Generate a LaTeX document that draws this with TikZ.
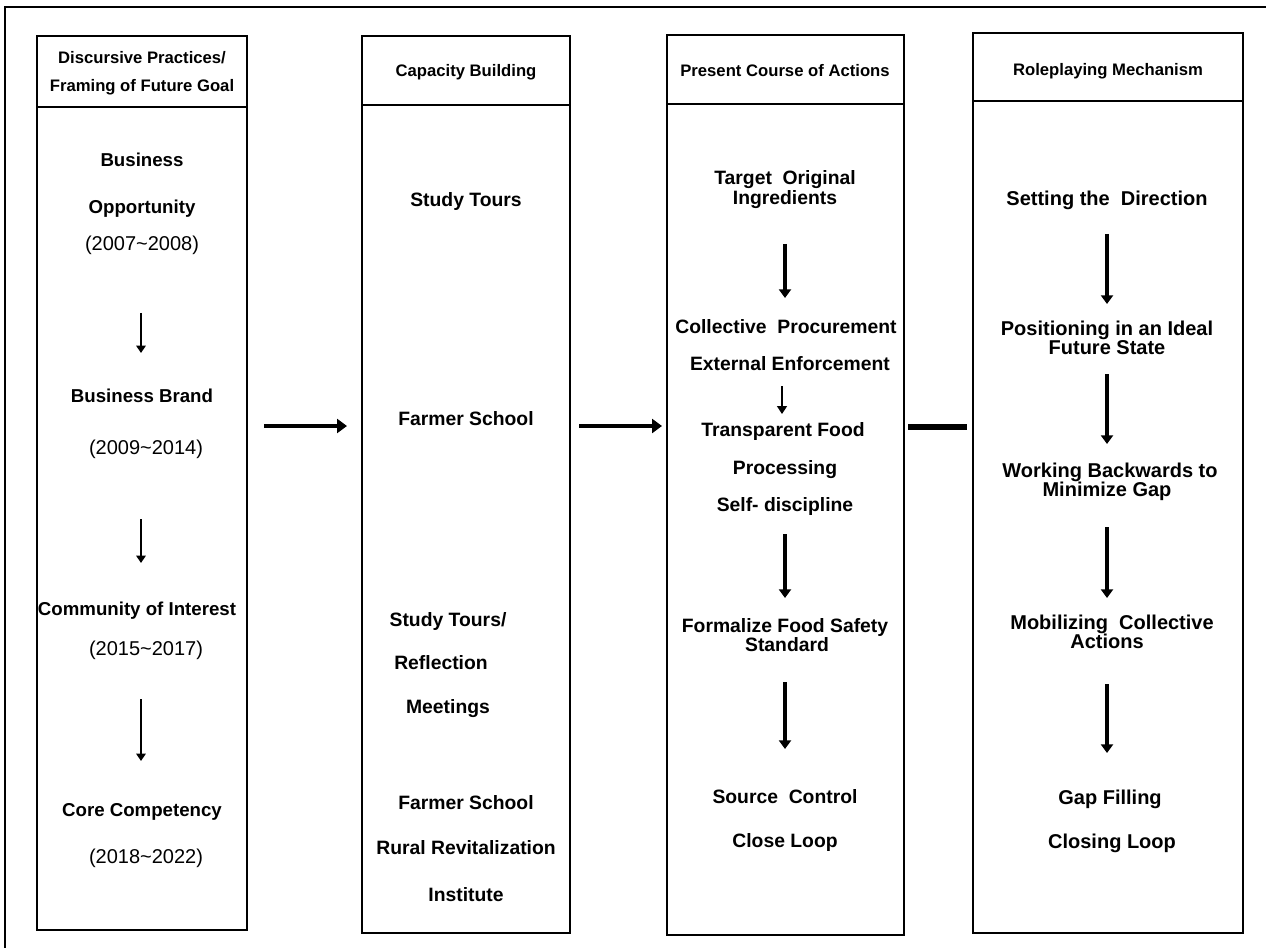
\documentclass[tikz,border=0pt]{standalone}
\usepackage{fontspec}
\setmainfont{Liberation Sans}
\usetikzlibrary{arrows.meta,fit}
\begin{document}
\begin{tikzpicture}[x=0.75pt,y=-0.75pt,
  colbox/.style={draw,line width=1.5pt,inner sep=0pt},
  hd/.style={font=\bfseries\fontsize{12.5}{15}\selectfont,text height=9pt,text depth=0pt,inner sep=0pt},
  tx/.style={font=\bfseries\fontsize{14.5}{17}\selectfont,text height=10.4pt,text depth=0pt,inner sep=0pt},
  txb/.style={font=\bfseries\fontsize{15}{17}\selectfont,text height=10.7pt,text depth=0pt,inner sep=0pt},
  txa/.style={font=\bfseries\fontsize{14}{17}\selectfont,text height=10pt,text depth=0pt,inner sep=0pt},
  yr/.style={font=\fontsize{15}{17}\selectfont,text height=10.7pt,text depth=0pt,inner sep=0pt},
  thinarrow/.style={line width=1.7pt,-{Triangle[length=5.5pt,width=7pt]}},
  smallarrow/.style={line width=1.2pt,-{Triangle[length=6pt,width=7.5pt]}},
  thickarrow/.style={line width=2.3pt,-{Triangle[length=6.5pt,width=9pt]}},
  harrow/.style={line width=3pt,-{Triangle[length=7.5pt,width=10.5pt]}},
  hlink/.style={line width=4.5pt}
]
\useasboundingbox (0,0) rectangle (1266,948);
% outer frame (top and left edges)
\draw[line width=2pt] (1266,7) -- (5,7) -- (5,948);

% column boxes
\node[colbox,fit={(37,36)(247,107)}] (h1) {};
\node[colbox,fit={(37,107)(247,930)}] (b1) {};
\node[colbox,fit={(362,36)(570,105)}] (h2) {};
\node[colbox,fit={(362,105)(570,933)}] (b2) {};
\node[colbox,fit={(667,35)(904,104)}] (h3) {};
\node[colbox,fit={(667,104)(904,935)}] (b3) {};
\node[colbox,fit={(973,33)(1243,101)}] (h4) {};
\node[colbox,fit={(973,101)(1243,933)}] (b4) {};

% headers
\node[hd] (h1a) at (142,58) {Discursive Practices/};
\node[hd] (h1b) at (142,86) {Framing of Future Goal};
\node[hd] (h2a) at (466,71) {Capacity Building};
\node[hd] (h3a) at (785,71) {Present Course of Actions};
\node[hd] (h4a) at (1108,70) {Roleplaying Mechanism};

% column 1
\node[txa] (c1a) at (142,160) {Business};
\node[txa] (c1b) at (142,207) {Opportunity};
\node[yr]  (c1c) at (142,243) {(2007\textasciitilde 2008)};
\node[txa] (c1d) at (142,396) {Business Brand};
\node[yr]  (c1e) at (146,447) {(2009\textasciitilde 2014)};
\node[txa] (c1f) at (137,609) {Community of Interest};
\node[yr]  (c1g) at (146,648) {(2015\textasciitilde 2017)};
\node[txa] (c1h) at (142,810) {Core Competency};
\node[yr]  (c1i) at (146,856) {(2018\textasciitilde 2022)};
\coordinate (a11s) at (141,313); \coordinate (a11e) at (141,353);
\coordinate (a12s) at (141,519); \coordinate (a12e) at (141,563);
\coordinate (a13s) at (141,699); \coordinate (a13e) at (141,761);
\draw[thinarrow] (a11s) -- (a11e);
\draw[thinarrow] (a12s) -- (a12e);
\draw[thinarrow] (a13s) -- (a13e);

% column 2
\node[tx] (c2a) at (466,200) {Study Tours};
\node[tx] (c2b) at (466,419) {Farmer School};
\node[tx] (c2c) at (448,620) {Study Tours/};
\node[tx] (c2d) at (441,663) {Reflection};
\node[tx] (c2e) at (448,707) {Meetings};
\node[tx] (c2f) at (466,803) {Farmer School};
\node[tx] (c2g) at (466,848) {Rural Revitalization};
\node[tx] (c2h) at (466,895) {Institute};

% column 3
\node[tx] (c3a) at (785,178) {Target\ \ Original};
\node[tx] (c3b) at (785,198) {Ingredients};
\node[tx] (c3c) at (786,327) {Collective\ \ Procurement};
\node[tx] (c3d) at (790,364) {External Enforcement};
\node[tx] (c3e) at (783,430) {Transparent Food};
\node[tx] (c3f) at (785,468) {Processing};
\node[tx] (c3g) at (785,505) {Self- discipline};
\node[tx] (c3h) at (785,626) {Formalize\ Food Safety};
\node[tx] (c3i) at (787,645) {Standard};
\node[tx] (c3j) at (785,797) {Source\ \ Control};
\node[tx] (c3k) at (785,841) {Close Loop};
\coordinate (a31s) at (785,244); \coordinate (a31e) at (785,298);
\coordinate (a32s) at (782,386); \coordinate (a32e) at (782,414);
\coordinate (a33s) at (785,534); \coordinate (a33e) at (785,598);
\coordinate (a34s) at (785,682); \coordinate (a34e) at (785,749);
\draw[thickarrow] (a31s) -- (a31e);
\draw[smallarrow] (a32s) -- (a32e);
\draw[thickarrow] (a33s) -- (a33e);
\draw[thickarrow] (a34s) -- (a34e);

% column 4
\node[txb] (c4a) at (1107,198) {Setting\ the\ \ Direction};
\node[txb] (c4b) at (1107,328) {Positioning in an Ideal};
\node[txb] (c4c) at (1107,347) {Future State};
\node[txb] (c4d) at (1110,470) {Working Backwards to};
\node[txb] (c4e) at (1107,489) {Minimize Gap};
\node[txb] (c4f) at (1112,622) {Mobilizing\ \ Collective};
\node[txb] (c4g) at (1107,641) {Actions};
\node[txb] (c4h) at (1110,797) {Gap Filling};
\node[txb] (c4i) at (1112,841) {Closing Loop};
\coordinate (a41s) at (1107,234); \coordinate (a41e) at (1107,304);
\coordinate (a42s) at (1107,374); \coordinate (a42e) at (1107,444);
\coordinate (a43s) at (1107,527); \coordinate (a43e) at (1107,598);
\coordinate (a44s) at (1107,684); \coordinate (a44e) at (1107,753);
\draw[thickarrow] (a41s) -- (a41e);
\draw[thickarrow] (a42s) -- (a42e);
\draw[thickarrow] (a43s) -- (a43e);
\draw[thickarrow] (a44s) -- (a44e);

% connectors between columns
\coordinate (l12s) at (264,426); \coordinate (l12e) at (347,426);
\coordinate (l23s) at (579,426); \coordinate (l23e) at (662,426);
\coordinate (l34s) at (908,427); \coordinate (l34e) at (967,427);
\draw[harrow] (l12s) -- (l12e);
\draw[harrow] (l23s) -- (l23e);
\draw[hlink] (l34s) -- (l34e);
\end{tikzpicture}
\end{document}
